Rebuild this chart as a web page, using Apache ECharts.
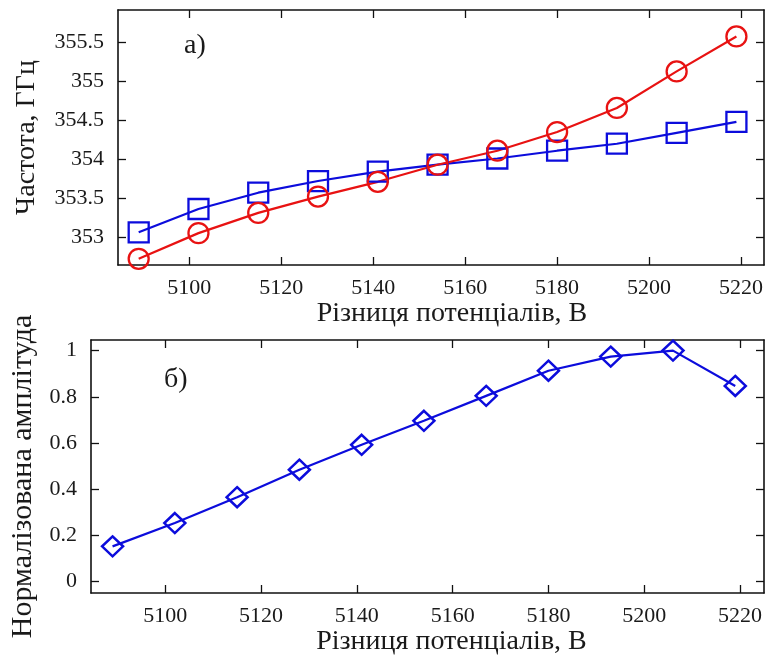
<!DOCTYPE html>
<html>
<head>
<meta charset="utf-8">
<script src="https://cdn.jsdelivr.net/npm/echarts@6/dist/echarts.min.js"></script>
<style>
  html, body { margin: 0; padding: 0; background: #fff; }
  #chart { width: 768px; height: 659px; }
</style>
</head>
<body>
<div id="chart"></div>
<script>
// Voltage difference (V), shared by both panels
const voltage = [5089, 5102, 5115, 5128, 5141, 5154, 5167, 5180, 5193, 5206, 5219];

// Panel a: oscillation frequency, GHz
const freqCircles = [352.72, 353.05, 353.31, 353.52, 353.71, 353.93, 354.11, 354.35, 354.66, 355.13, 355.58];
const freqSquares = [353.06, 353.36, 353.57, 353.72, 353.84, 353.93, 354.01, 354.11, 354.20, 354.34, 354.48];

// Panel b: normalized amplitude
const amplitude = [0.152, 0.253, 0.365, 0.484, 0.592, 0.696, 0.804, 0.913, 0.974, 1.0, 0.847];

// Tick labels
const voltageTicks = [5100, 5120, 5140, 5160, 5180, 5200, 5220];
const freqTicks = [353, 353.5, 354, 354.5, 355, 355.5];
const ampTicks = [0, 0.2, 0.4, 0.6, 0.8, 1];

const FONT = '"Liberation Serif", "Times New Roman", serif';
const RED = '#e81212';
const BLUE = '#0c0cdc';
const TEXT = '#1a1a1a';

const zip = (xs, ys) => xs.map((x, i) => [x, ys[i]]);
const plain = v => String(v);

function xAxes(gridIndex, ticks, gap, shift) {
  const common = {
    type: 'value', gridIndex, min: 5084.5, max: 5225,
    splitLine: { show: false },
    axisLine: { show: true, onZero: false, lineStyle: { color: '#111', width: 1.6 } },
    axisTick: { show: true, inside: true, length: 8, customValues: ticks, lineStyle: { color: '#111', width: 1.3 } }
  };
  return [
    Object.assign({}, common, {
      position: 'bottom',
      name: 'Різниця потенціалів, В', nameLocation: 'middle', nameGap: gap,
      nameTextStyle: { fontFamily: FONT, fontSize: 28, color: TEXT, padding: [0, 0, 0, shift * 2] },
      axisLabel: { show: true, margin: 12, customValues: ticks, formatter: plain, fontFamily: FONT, fontSize: 22, color: TEXT }
    }),
    Object.assign({}, common, { position: 'top', axisLabel: { show: false } })
  ];
}

function yAxes(gridIndex, min, max, ticks, title, gap, titleSize, padding) {
  const common = {
    type: 'value', gridIndex, min, max,
    splitLine: { show: false },
    axisLine: { show: true, onZero: false, lineStyle: { color: '#111', width: 1.6 } },
    axisTick: { show: true, inside: true, length: 8, customValues: ticks, lineStyle: { color: '#111', width: 1.3 } }
  };
  return [
    Object.assign({}, common, {
      position: 'left',
      name: title, nameLocation: 'middle', nameGap: gap, nameRotate: 90,
      nameTextStyle: { fontFamily: FONT, fontSize: titleSize, color: TEXT, padding },
      axisLabel: { show: true, margin: 14, customValues: ticks, formatter: plain, fontFamily: FONT, fontSize: 22, color: TEXT }
    }),
    Object.assign({}, common, { position: 'right', axisLabel: { show: false } })
  ];
}

const chart = echarts.init(document.getElementById('chart'), null, { renderer: 'canvas' });

chart.setOption({
  backgroundColor: '#fff',
  animation: false,
  grid: [
    { left: 118, top: 10, width: 646, height: 255 },
    { left: 91, top: 340, width: 673, height: 253 }
  ],
  xAxis: [...xAxes(0, voltageTicks, 33, 11), ...xAxes(1, voltageTicks, 34, 24)],
  yAxis: [
    ...yAxes(0, 352.64, 355.92, freqTicks, 'Частота, ГГц', 77, 28, [0, 0, 0, 0]),
    ...yAxes(1, -0.05, 1.046, ampTicks, 'Нормалізована амплітуда', 47, 30, [0, 20, 0, 0])
  ],
  graphic: [
    { type: 'text', left: 184, top: 32, style: { text: 'а)', font: '28px ' + FONT, fill: TEXT } },
    { type: 'text', left: 164, top: 366, style: { text: 'б)', font: '28px ' + FONT, fill: TEXT } }
  ],
  series: [
    {
      type: 'line', xAxisIndex: 0, yAxisIndex: 0,
      data: zip(voltage, freqSquares),
      symbol: 'rect', symbolSize: 20, clip: false,
      lineStyle: { color: BLUE, width: 2.2 },
      itemStyle: { color: 'rgba(255,255,255,0)', borderColor: BLUE, borderWidth: 2.3 }
    },
    {
      type: 'line', xAxisIndex: 0, yAxisIndex: 0,
      data: zip(voltage, freqCircles),
      symbol: 'circle', symbolSize: 20, clip: false,
      lineStyle: { color: RED, width: 2.2 },
      itemStyle: { color: 'rgba(255,255,255,0)', borderColor: RED, borderWidth: 2.3 }
    },
    {
      type: 'line', xAxisIndex: 2, yAxisIndex: 2,
      data: zip(voltage, amplitude),
      symbol: 'diamond', symbolSize: [21, 20], clip: false,
      lineStyle: { color: BLUE, width: 2.2 },
      itemStyle: { color: 'rgba(255,255,255,0)', borderColor: BLUE, borderWidth: 2.5 }
    }
  ]
});
</script>
</body>
</html>
